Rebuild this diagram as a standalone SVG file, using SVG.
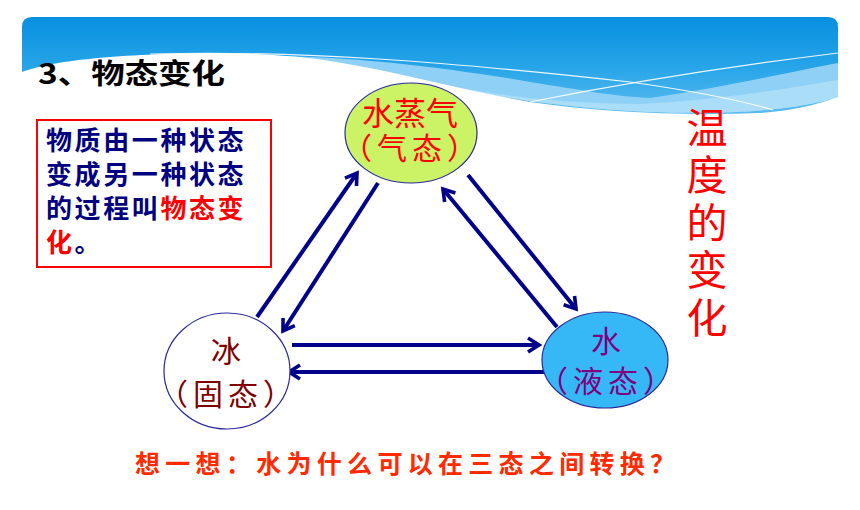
<svg xmlns="http://www.w3.org/2000/svg" width="860" height="510" viewBox="0 0 860 510">
<style>
.cjk{font-family:"Noto Sans CJK SC","Noto Sans",sans-serif}
.box{font-size:26px;font-weight:bold;fill:#000080;letter-spacing:2.6px}
.red{fill:#ff0000}
.node{font-size:30px}
.par{letter-spacing:5px}
.arrow{stroke:#00008b;stroke-width:4;fill:none;marker-end:url(#ah)}
.ell{stroke:#2a2a9a;stroke-width:1.2}
</style>
<defs>
<linearGradient id="bg" x1="0" y1="17" x2="0" y2="115" gradientUnits="userSpaceOnUse">
<stop offset="0" stop-color="#0790e0"/>
<stop offset="0.5" stop-color="#26a4e8"/>
<stop offset="1" stop-color="#5cbcf0"/>
</linearGradient>
<marker id="ah" markerUnits="userSpaceOnUse" markerWidth="20" markerHeight="20" viewBox="0 0 20 20" refX="16" refY="10" orient="auto">
<path d="M5,3 L16,10 L5,17" stroke="#00008b" stroke-width="3.6" fill="none"/>
</marker>
</defs>
<rect width="860" height="510" fill="#ffffff"/>
<g id="banner">
<path d="M22,125 L22,27 Q22,17 32,17 L828,17 Q838,17 838,27 L838,125 Z" fill="url(#bg)"/>
<path d="M270,56 C350,56 450,68 530,82 C580,90 620,97 650,98 C720,88 790,72 838,63 L838,97 C800,110 730,115 650,112 C560,108 480,95 430,82 C380,70 330,60 270,56 Z" fill="#8fd1f6"/>
<path d="M430,82 C500,96 560,104 640,104 C720,100 790,88 838,80 L838,97 C800,110 730,115 650,112 C560,108 480,95 430,82 Z" fill="#a9ddf8"/>
<path d="M22,72 C50,62 100,55 200,53 C260,53 300,56 330,61 C400,72 460,90 530,102 C600,112 680,116 760,113 C800,110 820,103 838,97 L838,130 L22,130 Z" fill="#ffffff"/>
<path d="M150,54 C300,50 450,62 630,82 C700,92 740,100 773,110" stroke="#ffffff" stroke-width="1.2" fill="none" opacity="0.9"/>
<path d="M530,102 C600,88 700,70 838,53" stroke="#ffffff" stroke-width="1.2" fill="none" opacity="0.9"/>
</g>
<text class="cjk" x="38" y="84" font-size="28" font-weight="bold" fill="#000000" textLength="187" lengthAdjust="spacingAndGlyphs">3、物态变化</text>
<g id="definition">
<rect x="37" y="120" width="234" height="147" fill="#ffffff" stroke="#ff0000" stroke-width="2"/>
<text class="cjk box"><tspan x="46" y="150">物质由一种状态</tspan><tspan x="46" y="184">变成另一种状态</tspan><tspan x="46" y="218">的过程叫<tspan class="red">物态变</tspan></tspan><tspan x="46" y="252"><tspan class="red">化</tspan>。</tspan></text>
</g>
<g id="connectors">
<line class="arrow" x1="257" y1="317" x2="357" y2="173"/>
<line class="arrow" x1="378" y1="183" x2="283" y2="331"/>
<line class="arrow" x1="557" y1="327" x2="443" y2="189"/>
<line class="arrow" x1="468" y1="175" x2="576" y2="309"/>
<line class="arrow" x1="292" y1="345" x2="539" y2="345"/>
<line class="arrow" x1="547" y1="372" x2="289" y2="372"/>
</g>
<g id="vapor">
<ellipse class="ell" cx="411" cy="133" rx="66" ry="50" fill="#ccf266"/>
<text class="cjk node" text-anchor="middle" fill="#ff0000"><tspan x="410" y="125" font-size="32">水蒸气</tspan><tspan class="par" x="412" y="159">（气态）</tspan></text>
</g>
<g id="ice">
<ellipse class="ell" cx="227" cy="371" rx="63" ry="58" fill="#ffffff"/>
<text class="cjk node" text-anchor="middle" fill="#800000"><tspan x="226" y="362">冰</tspan><tspan class="par" x="228" y="405">（固态）</tspan></text>
</g>
<g id="water">
<ellipse class="ell" cx="605" cy="360" rx="63" ry="48" fill="#36b8f6"/>
<text class="cjk node" text-anchor="middle" fill="#800080"><tspan x="606" y="352">水</tspan><tspan class="par" x="608" y="392">（液态）</tspan></text>
</g>
<g id="temperature">
<text class="cjk" font-size="41" fill="#ff0000" text-anchor="middle"><tspan x="707" y="143">温</tspan><tspan x="707" y="190">度</tspan><tspan x="707" y="238">的</tspan><tspan x="707" y="285">变</tspan><tspan x="707" y="333">化</tspan></text>
</g>
<text class="cjk" x="135" y="473" font-size="25" font-weight="bold" fill="#ff2a00" letter-spacing="5.3">想一想：水为什么可以在三态之间转换？</text>
</svg>
